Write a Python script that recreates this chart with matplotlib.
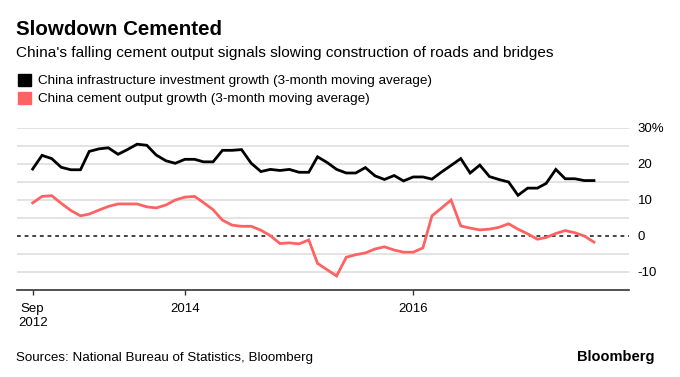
import matplotlib
matplotlib.use("Agg")
import matplotlib.pyplot as plt
import matplotlib.dates as mdates
import matplotlib.patches as mpatches
import pandas as pd
import numpy as np

plt.rcParams['font.family'] = ['Liberation Sans', 'DejaVu Sans']

# ---- data ----
dates = pd.date_range('2012-09-01', periods=60, freq='MS')
infra = [18.6, 22.4, 21.5, 19.1, 18.4, 18.4, 23.5, 24.2, 24.5, 22.7,
         24.0, 25.5, 25.2, 22.5, 20.9, 20.2, 21.3, 21.3, 20.6, 20.6,
         23.8, 23.8, 24.0, 20.2, 17.9, 18.5, 18.2, 18.5, 17.7, 17.7,
         22.0, 20.4, 18.5, 17.5, 17.5, 19.0, 16.7, 15.7, 16.8, 15.3,
         16.4, 16.4, 15.8, 17.8, 19.6, 21.5, 17.5, 19.7, 16.5, 15.7,
         15.0, 11.3, 13.3, 13.3, 14.6, 18.5, 15.9, 15.9, 15.4, 15.4]
cement = [9.2, 11.0, 11.2, 9.1, 7.1, 5.6, 6.1, 7.2, 8.2, 8.9,
          8.9, 8.9, 8.1, 7.8, 8.6, 10.0, 10.8, 11.0, 9.3, 7.3,
          4.4, 3.0, 2.7, 2.7, 1.6, 0.1, -2.1, -1.9, -2.2, -1.1,
          -7.6, -9.4, -11.1, -5.9, -5.2, -4.7, -3.6, -3.0, -3.9, -4.5,
          -4.5, -3.3, 5.6, 7.8, 10.0, 2.8, 2.2, 1.7, 1.9, 2.4,
          3.4, 1.9, 0.6, -0.9, -0.4, 0.7, 1.5, 0.9, 0.0, -1.7]
series_names = ["China infrastructure investment growth (3-month moving average)",
                "China cement output growth (3-month moving average)"]
y_ticks = [-10, 0, 10, 20, 30]
y_labels = ["-10", "0", "10", "20", "30%"]
x_tick_dates = pd.to_datetime(['2012-09-01', '2014-01-01', '2016-01-01'])
x_tick_labels = ["Sep\n2012", "2014", "2016"]

BLACK = '#000000'
RED = '#ff6262'
W, H = 680, 377

fig = plt.figure(figsize=(W / 100, H / 100), dpi=100)
ax = fig.add_axes([16.7 / W, 87 / H, (629.3 - 16.7) / W, (290 - 128) / H])

for g in range(-10, 31, 5):
    if g == 0:
        continue
    ax.axhline(g, color='#e1e1e1', lw=1.3, zorder=1)
ax.axhline(0, color='#111111', lw=1.1, ls=(0, (2.5, 2.5)), zorder=2)

ax.plot(dates, infra, color=BLACK, lw=2.0, solid_joinstyle='miter', zorder=3)
ax.plot(dates, cement, color=RED, lw=2.0, solid_joinstyle='miter', zorder=3)

ax.set_ylim(-15, 30)
ax.set_xlim(dates[0] - pd.Timedelta(days=51), dates[-1] + pd.Timedelta(days=113))

for s in ['top', 'right', 'left']:
    ax.spines[s].set_visible(False)
ax.spines['bottom'].set_color('#333333')
ax.spines['bottom'].set_linewidth(1.2)

ax.yaxis.tick_right()
ax.set_yticks(y_ticks)
ax.set_yticklabels(y_labels)
ax.tick_params(axis='y', length=0, pad=6.0, labelsize=9.5, labelcolor='#000000')
for lab in ax.get_yticklabels():
    lab.set_horizontalalignment('left')

ax.set_xticks(x_tick_dates)
ax.set_xticklabels(x_tick_labels)
ax.tick_params(axis='x', length=3.5, width=1, color='#333333', pad=6,
               labelsize=9.5, direction='out')

# titles
fig.text(16 / W, 1 - 35 / H, "Slowdown Cemented", fontsize=14.8, fontweight='bold',
         ha='left', va='baseline')
fig.text(16 / W, 1 - 57.3 / H,
         "China's falling cement output signals slowing construction of roads and bridges",
         fontsize=11.1, ha='left', va='baseline')

# legend
for i, (name, col) in enumerate(zip(series_names, [BLACK, RED])):
    ytop = 74 + i * 18.3
    fig.patches.append(mpatches.Rectangle((18.3 / W, 1 - (ytop + 12) / H), 12.5 / W, 12 / H,
                                          transform=fig.transFigure, color=col, figure=fig))
    fig.text(38.5 / W, 1 - (ytop + 10) / H, name, fontsize=9.7, ha='left', va='baseline')

fig.text(16 / W, 1 - 361 / H, "Sources: National Bureau of Statistics, Bloomberg",
         fontsize=9.6, ha='left', va='baseline')
fig.text(655 / W, 1 - 361 / H, "Bloomberg", fontsize=10.5, fontweight='bold',
         ha='right', va='baseline')

fig.savefig('out.png', dpi=100)
